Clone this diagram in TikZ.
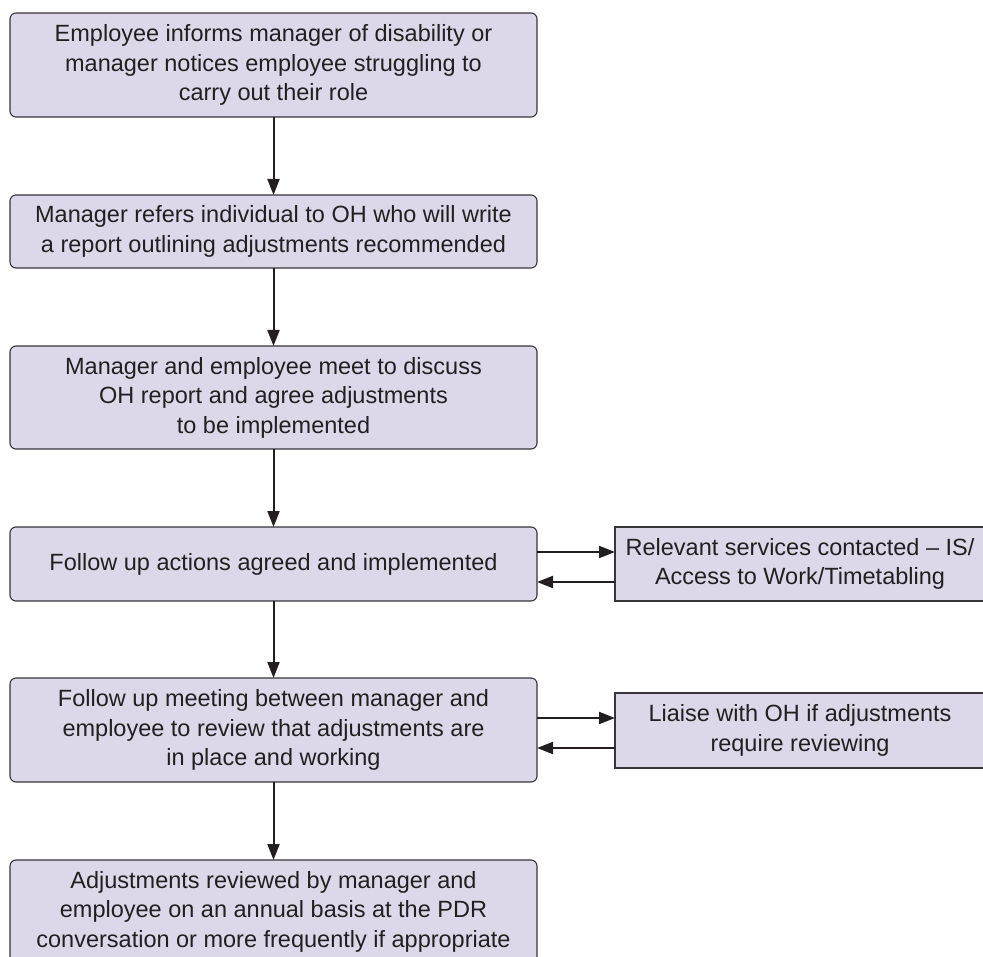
\documentclass[tikz,border=0pt]{standalone}
\usepackage{fontspec}
\setmainfont{Liberation Sans}
\usetikzlibrary{arrows.meta,calc}
\definecolor{boxfill}{RGB}{221,216,233}
\definecolor{boxdraw}{RGB}{55,52,58}
\definecolor{ink}{RGB}{35,31,32}
\tikzset{
  flowbox/.style={draw=boxdraw, line width=1.1pt, fill=boxfill, rounded corners=6pt,
    minimum width=527pt, inner sep=0pt, outer sep=0pt, align=center, text=ink,
    font=\fontsize{23.5}{29.5}\selectfont},
  sidebox/.style={flowbox, rounded corners=0pt, minimum width=370pt},
  arr/.style={draw=ink, line width=2pt, -{Triangle[length=16pt,width=12pt]}}
}
\begin{document}
\begin{tikzpicture}[x=1pt,y=-1pt]
\useasboundingbox (0,0) rectangle (983,957);
\node[flowbox, minimum height=104pt] (b1) at (273.5,65)
  {Employee informs manager of disability or\\manager notices employee struggling to\\carry out their role};
\node[flowbox, minimum height=73pt] (b2) at (273.5,231.5)
  {Manager refers individual to OH who will write\\a report outlining adjustments recommended};
\node[flowbox, minimum height=103pt] (b3) at (273.5,397.5)
  {Manager and employee meet to discuss\\OH report and agree adjustments\\to be implemented};
\node[flowbox, minimum height=74pt] (b4) at (273.5,564)
  {Follow up actions agreed and implemented};
\node[flowbox, minimum height=104pt] (b5) at (273.5,730)
  {Follow up meeting between manager and\\employee to review that adjustments are\\in place and working};
\node[flowbox, minimum height=103pt] (b6) at (273.5,911.5)
  {Adjustments reviewed by manager and\\employee on an annual basis at the PDR\\conversation or more frequently if appropriate};
\node[sidebox, minimum height=74pt] (b7) at (800,564)
  {Relevant services contacted – IS/\\Access to Work/Timetabling};
\node[sidebox, minimum height=75pt] (b8) at (800,730.5)
  {Liaise with OH if adjustments\\require reviewing};
\draw[arr] (b1) -- (b2);
\draw[arr] (b2) -- (b3);
\draw[arr] (b3) -- (b4);
\draw[arr] (b4) -- (b5);
\draw[arr] (b5) -- (b6);
\draw[arr] ($(b7.north west)+(-78,25)$) -- ($(b7.north west)+(0,25)$);
\draw[arr] ($(b7.north west)+(0,55)$) -- ($(b7.north west)+(-78,55)$);
\draw[arr] ($(b8.north west)+(-78,25)$) -- ($(b8.north west)+(0,25)$);
\draw[arr] ($(b8.north west)+(0,55)$) -- ($(b8.north west)+(-78,55)$);
\end{tikzpicture}
\end{document}
